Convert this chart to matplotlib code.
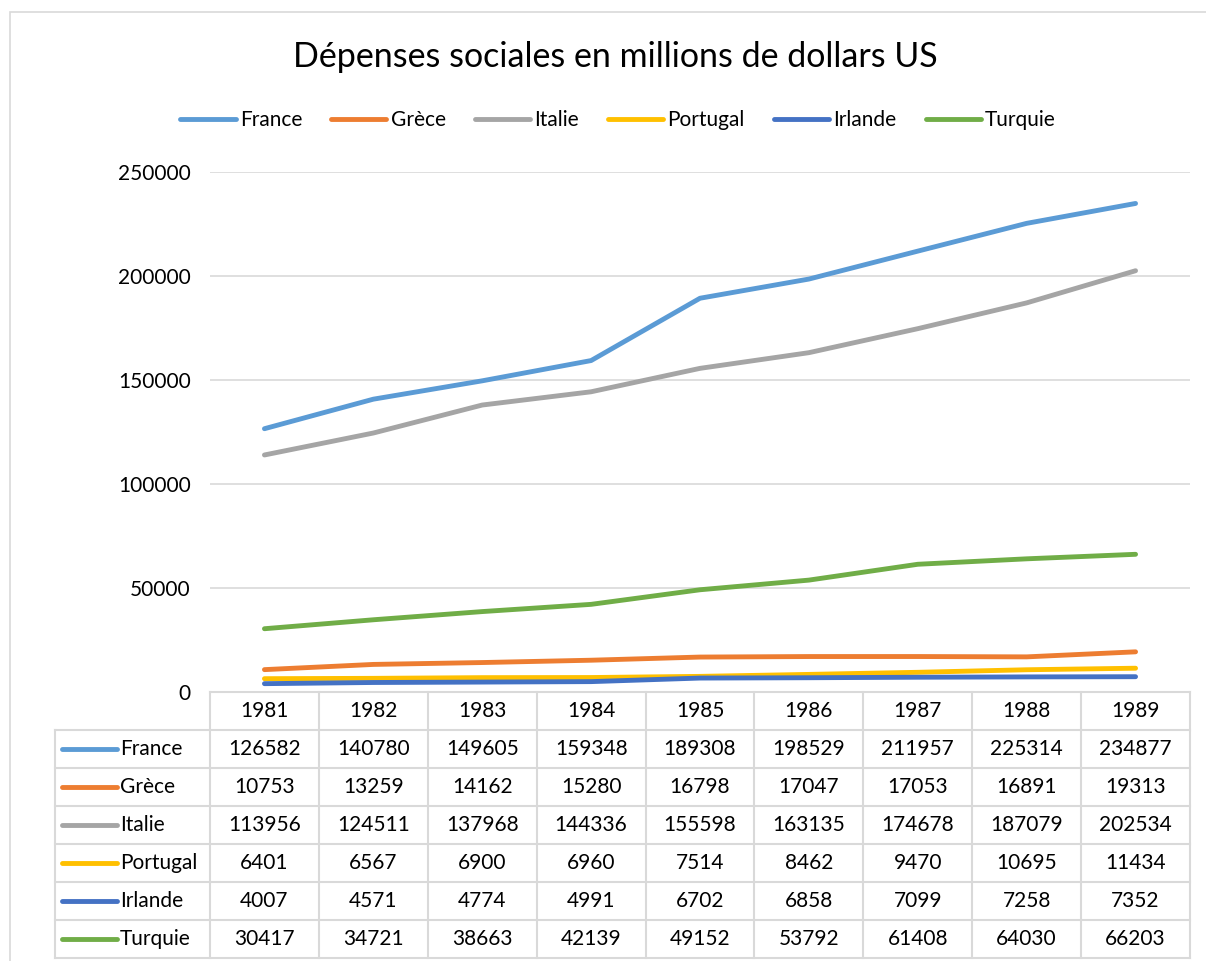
import matplotlib
matplotlib.use("Agg")
import matplotlib.pyplot as plt
from matplotlib.patches import Rectangle

# data
years = ["1981", "1982", "1983", "1984", "1985", "1986", "1987", "1988", "1989"]
countries = ["France", "Grèce", "Italie", "Portugal", "Irlande", "Turquie"]
france = [126582, 140780, 149605, 159348, 189308, 198529, 211957, 225314, 234877]
grece = [10753, 13259, 14162, 15280, 16798, 17047, 17053, 16891, 19313]
italie = [113956, 124511, 137968, 144336, 155598, 163135, 174678, 187079, 202534]
portugal = [6401, 6567, 6900, 6960, 7514, 8462, 9470, 10695, 11434]
irlande = [4007, 4571, 4774, 4991, 6702, 6858, 7099, 7258, 7352]
turquie = [30417, 34721, 38663, 42139, 49152, 53792, 61408, 64030, 66203]
series = [france, grece, italie, portugal, irlande, turquie]
colors = ["#5B9BD5", "#ED7D31", "#A5A5A5", "#FFC000", "#4472C4", "#70AD47"]
yticks = [0, 50000, 100000, 150000, 200000, 250000]

plt.rcParams['font.family'] = ['Lato', 'DejaVu Sans']
FS = 15
LW = 3.5
GRID = "#d9d9d9"
W, H = 1206, 961

fig = plt.figure(figsize=(W / 100, H / 100), dpi=100)

# outer chart border
fig.patches.append(Rectangle((10 / W, -0.1), 1.5, 1 - 12 / H + 0.1, transform=fig.transFigure,
                             fill=False, edgecolor=GRID, linewidth=1.2))

# plot area
ax = fig.add_axes([210 / W, (H - 692) / H, 980 / W, 520 / H])
x = list(range(len(years)))
for name, vals, c in zip(countries, series, colors):
    ax.plot(x, vals, color=c, linewidth=LW, solid_capstyle="round", label=name, zorder=3)
ax.set_xlim(-0.5, len(years) - 0.5)
ax.set_ylim(0, 250000)
ax.set_yticks(yticks)
ax.set_yticklabels([str(v) for v in yticks], fontsize=FS)
ax.set_xticks([])
ax.grid(axis="y", color=GRID, linewidth=1.2)
ax.tick_params(axis="y", length=0, pad=14)
for s in ax.spines.values():
    s.set_visible(False)

fig.text(615 / W, 1 - 57 / H, "Dépenses sociales en millions de dollars US",
         ha="center", va="center", fontsize=24.5)

fig.legend(loc="center", bbox_to_anchor=(618 / W, 1 - 120 / H), ncol=6, frameon=False,
           fontsize=FS, handlelength=2.65, handletextpad=0.2, columnspacing=1.4)

# data table below the plot
col_w = 980 / len(years)
left_x = -0.5 - (210 - 55) / col_w
tab = fig.add_axes([55 / W, (H - 958) / H, (1190 - 55) / W, (958 - 692) / H])
tab.set_xlim(left_x, len(years) - 0.5)
tab.set_ylim(7, 0)
tab.axis("off")
lw = 1.5
tab.plot([-0.5, len(years) - 0.5], [0, 0], color=GRID, lw=lw, clip_on=False)
for r in range(1, 8):
    tab.plot([left_x, len(years) - 0.5], [r, r], color=GRID, lw=lw, clip_on=False)
for cidx in range(len(years) + 1):
    tab.plot([cidx - 0.5, cidx - 0.5], [0, 7], color=GRID, lw=lw, clip_on=False)
tab.plot([left_x, left_x], [1, 7], color=GRID, lw=lw, clip_on=False)

for i, y in enumerate(years):
    tab.text(i, 0.5, y, ha="center", va="center", fontsize=FS)
px = 1 / col_w
for r, (name, vals, c) in enumerate(zip(countries, series, colors), start=1):
    tab.plot([left_x + 7 * px, left_x + 62 * px], [r + 0.5, r + 0.5], color=c,
             lw=LW, solid_capstyle="round")
    tab.text(left_x + 65 * px, r + 0.5, name, ha="left", va="center", fontsize=FS)
    for i, v in enumerate(vals):
        tab.text(i, r + 0.5, str(v), ha="center", va="center", fontsize=FS)

fig.savefig("out.png", dpi=100)
